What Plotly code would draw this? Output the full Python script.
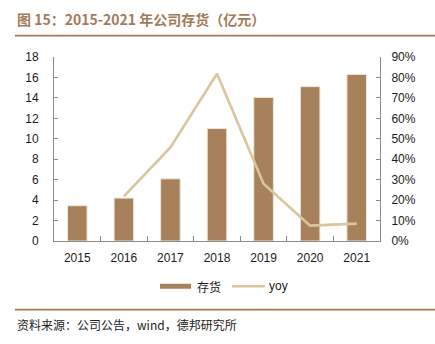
import plotly.graph_objects as go

# Inventory (100M CNY) and year-over-year growth, 2015-2021
years = ["2015", "2016", "2017", "2018", "2019", "2020", "2021"]
inventory = [3.45, 4.2, 6.08, 11.0, 14.05, 15.1, 16.3]
yoy_years = ["2016", "2017", "2018", "2019", "2020", "2021"]
yoy = [0.218, 0.458, 0.818, 0.28, 0.075, 0.085]

left_ticks = [0, 2, 4, 6, 8, 10, 12, 14, 16, 18]
right_ticks = [0, 0.1, 0.2, 0.3, 0.4, 0.5, 0.6, 0.7, 0.8, 0.9]

BAR = "#A7815B"
LINE = "#D9C69D"
BROWN = "#A37B58"
AXIS = "#8C8C8C"
TICKFONT = dict(family="Liberation Sans, Arial, sans-serif", size=12, color="#1a1a1a")

fig = go.Figure()
fig.add_trace(go.Bar(
    x=years, y=inventory, name="存货",
    marker=dict(color=BAR, line=dict(color="#EFE6D8", width=1)),
    width=0.42, yaxis="y",
))
fig.add_trace(go.Scatter(
    x=yoy_years, y=yoy, name="yoy", mode="lines",
    line=dict(color=LINE, width=2.6), yaxis="y2",
))

W, H = 435, 344
L, R, T, B = 54, 55, 56.5, 102.5


def xp(x):
    """Pixel x -> paper coordinate."""
    return (x - L) / (W - L - R)


def yp(y):
    """Pixel y (from top) -> paper coordinate."""
    return (H - B - y) / (H - T - B)


fig.update_layout(
    width=W, height=H,
    margin=dict(l=L, r=R, t=T, b=B),
    paper_bgcolor="white", plot_bgcolor="white",
    showlegend=False,
    xaxis=dict(
        type="category", range=[-0.5, 6.5],
        showline=True, linecolor=AXIS, linewidth=1,
        ticks="inside", ticklen=5, tickcolor=AXIS, tickson="boundaries",
        showgrid=False, tickfont=TICKFONT, ticklabelstandoff=6,
    ),
    yaxis=dict(
        range=[0, 18], tickvals=left_ticks,
        showline=True, linecolor=AXIS, linewidth=1,
        ticks="inside", ticklen=4, tickcolor=AXIS,
        showgrid=False, zeroline=False, tickfont=TICKFONT, ticklabelstandoff=12,
    ),
    yaxis2=dict(
        range=[0, 0.9], tickvals=right_ticks, tickformat=".0%",
        overlaying="y", side="right",
        showline=True, linecolor=AXIS, linewidth=1,
        ticks="inside", ticklen=4, tickcolor=AXIS,
        showgrid=False, zeroline=False, tickfont=TICKFONT, ticklabelstandoff=8,
    ),
)

shapes = [
    # header and footer rules
    dict(type="line", xref="paper", yref="paper",
         x0=xp(15), x1=xp(W), y0=yp(35), y1=yp(35),
         line=dict(color=BROWN, width=1.6)),
    dict(type="line", xref="paper", yref="paper",
         x0=xp(15), x1=xp(W), y0=yp(310.5), y1=yp(310.5),
         line=dict(color=BROWN, width=1.6)),
    # legend swatches
    dict(type="rect", xref="paper", yref="paper",
         x0=xp(160), x1=xp(191), y0=yp(289.5), y1=yp(284.5),
         fillcolor=BAR, line=dict(width=0)),
    dict(type="line", xref="paper", yref="paper",
         x0=xp(232), x1=xp(265), y0=yp(287), y1=yp(287),
         line=dict(color=LINE, width=2.6)),
]
fig.update_layout(shapes=shapes)

annotations = [
    dict(text="<b>图 15：2015-2021 年公司存货（亿元）</b>", xref="paper", yref="paper",
         x=xp(15), y=yp(18), xanchor="left", yanchor="middle", showarrow=False,
         font=dict(family="Noto Sans CJK SC, Liberation Sans, sans-serif", size=14, color=BROWN)),
    dict(text="存货", xref="paper", yref="paper",
         x=xp(195), y=yp(287), xanchor="left", yanchor="middle", showarrow=False,
         font=dict(family="Noto Sans CJK SC, sans-serif", size=12, color="#1a1a1a")),
    dict(text="yoy", xref="paper", yref="paper",
         x=xp(267), y=yp(287), xanchor="left", yanchor="middle", showarrow=False,
         font=TICKFONT),
    dict(text="资料来源：公司公告，wind，德邦研究所", xref="paper", yref="paper",
         x=xp(15), y=yp(325), xanchor="left", yanchor="middle", showarrow=False,
         font=dict(family="Noto Sans CJK SC, sans-serif", size=12, color="#222222")),
]
fig.update_layout(annotations=annotations)

fig.write_html("out.html")
